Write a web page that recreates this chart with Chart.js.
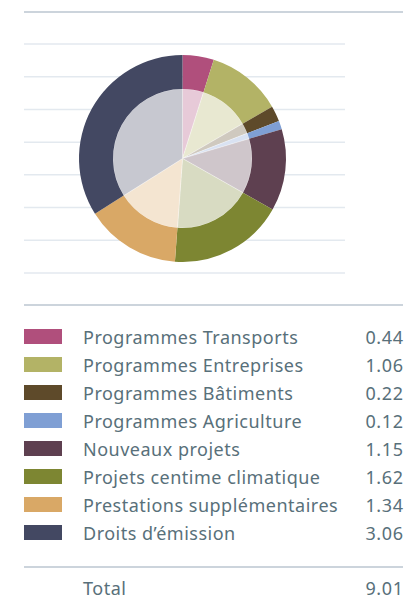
<!DOCTYPE html>
<html><head><meta charset="utf-8">
<script src="https://cdn.jsdelivr.net/npm/chart.js@4/dist/chart.umd.min.js"></script>
<style>
html,body{margin:0;padding:0;background:#fff;width:408px;height:609px;overflow:hidden;font-family:"Noto Sans",sans-serif;}
.rule{position:absolute;left:24px;width:379px;height:2px;background:#ccd4dc;}
#wrap{position:absolute;left:24px;top:28px;width:321px;height:261px;}
#legend{position:absolute;left:24px;top:0;width:379px;}
.row{position:absolute;left:0;width:379px;height:28px;color:#58707a;font-size:18px;letter-spacing:0.5px;line-height:28px;}
.sw{position:absolute;left:0;top:6px;width:38px;height:15px;}
.lb{position:absolute;left:59px;top:0;white-space:nowrap;}
.vl{position:absolute;right:0;top:0;letter-spacing:0.6px;margin-right:-0.6px;}
</style></head>
<body>
<div class="rule" style="top:11px"></div>
<div id="wrap"><canvas id="c"></canvas></div>
<div class="rule" style="top:304px"></div>
<div id="legend"></div>
<div class="rule" style="top:566px"></div>
<script>
const categories = ["Programmes Transports","Programmes Entreprises","Programmes Bâtiments","Programmes Agriculture","Nouveaux projets","Projets centime climatique","Prestations supplémentaires","Droits d’émission"];
const values = [0.44,1.06,0.22,0.12,1.15,1.62,1.34,3.06];
const valueLabels = ["0.44","1.06","0.22","0.12","1.15","1.62","1.34","3.06"];
const totalLabel = "Total";
const totalValue = "9.01";
const colors = ["#b04f7c","#b3b366","#5e4a2a","#7f9fd4","#5e4050","#7d8632","#d9a866","#434862"];

function lighten(hex, a){
  const n=parseInt(hex.slice(1),16);
  const r=(n>>16)&255,g=(n>>8)&255,b=n&255;
  const f=c=>Math.round(255-a*(255-c));
  return `rgb(${f(r)},${f(g)},${f(b)})`;
}
const lightColors = colors.map(c=>lighten(c,0.3));

const gridPlugin = {
  id:'grid',
  beforeDatasetsDraw(chart){
    const ctx=chart.ctx;
    ctx.save();
    ctx.strokeStyle='#e3e9ef';
    ctx.lineWidth=1.5;
    for(let i=0;i<8;i++){
      const y=16+i*32.71;
      ctx.beginPath();ctx.moveTo(0,y);ctx.lineTo(321,y);ctx.stroke();
    }
    ctx.restore();
  }
};

new Chart(document.getElementById('c'),{
  type:'pie',
  data:{labels:categories,datasets:[
    {data:values,backgroundColor:colors,borderWidth:0,weight:34},
    {data:values,backgroundColor:lightColors,borderColor:'rgba(255,255,255,0.6)',borderWidth:0.5,weight:69.5}
  ]},
  options:{
    responsive:true,maintainAspectRatio:false,animation:false,
    layout:{padding:{top:27,bottom:27,left:0,right:4}},
    plugins:{legend:{display:false},tooltip:{enabled:false}}
  },
  plugins:[gridPlugin]
});

const lg=document.getElementById('legend');
categories.forEach((c,i)=>{
  const r=document.createElement('div');r.className='row';
  r.style.top=(323+i*28)+'px';
  r.innerHTML=`<div class="sw" style="background:${colors[i]}"></div><div class="lb">${c}</div><div class="vl">${valueLabels[i]}</div>`;
  lg.appendChild(r);
});
const t=document.createElement('div');t.className='row';t.style.top='574px';
t.innerHTML=`<div class="lb">${totalLabel}</div><div class="vl">${totalValue}</div>`;
lg.appendChild(t);
</script>
</body></html>
